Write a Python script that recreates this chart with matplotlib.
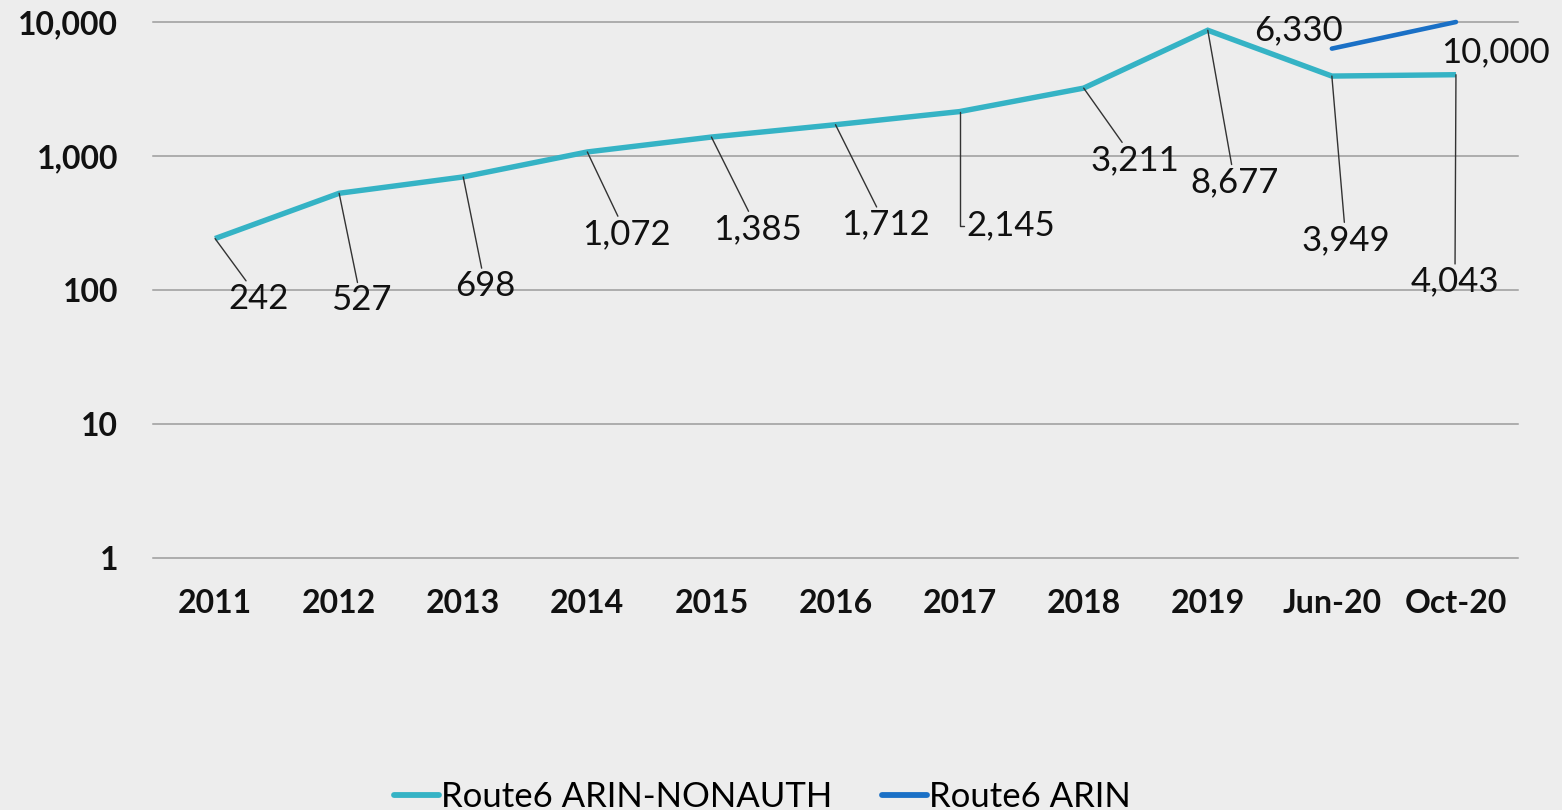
import matplotlib
matplotlib.use("Agg")
import matplotlib.pyplot as plt
from matplotlib.ticker import FixedLocator, FuncFormatter

categories = ["2011", "2012", "2013", "2014", "2015", "2016", "2017", "2018",
              "2019", "Jun-20", "Oct-20"]
nonauth = [242, 527, 698, 1072, 1385, 1712, 2145, 3211, 8677, 3949, 4043]
arin_cats = ["Jun-20", "Oct-20"]
arin = [6330, 10000]
y_ticks = [1, 10, 100, 1000, 10000]

# label offsets in pixels (dx, dy) from each point
nonauth_offsets = [(44, -60), (22, -107), (22, -109), (39, -82), (46, -92),
                   (50, -100), (51, -114), (51, -72), (27, -152), (14, -164),
                   (-1, -207)]
arin_offsets = [(-33, 18), (40, -30)]

teal = "#35b3c5"
blue = "#1a70c6"
bg = "#ededed"

plt.rcParams["font.family"] = ["Lato", "DejaVu Sans"]

fig = plt.figure(figsize=(15.62, 8.10), dpi=100, facecolor=bg)
ax = fig.add_axes([153/1562, 1-558/810, (1518-153)/1562, (558-22)/810])
ax.set_facecolor("none")

x = list(range(len(categories)))
xa = [categories.index(c) for c in arin_cats]

ax.plot(x, nonauth, color=teal, lw=3.9, solid_joinstyle="miter",
        solid_capstyle="butt", label="Route6 ARIN-NONAUTH", zorder=3,
        clip_on=False)
ax.plot(xa, arin, color=blue, lw=3.3, solid_capstyle="round",
        label="Route6 ARIN", zorder=3, clip_on=False)

ax.set_yscale("log")
ax.set_ylim(1, 10000)
ax.set_xlim(-0.5, len(categories) - 0.5)
ax.yaxis.set_major_locator(FixedLocator(y_ticks))
ax.yaxis.set_minor_locator(FixedLocator([]))
ax.yaxis.set_major_formatter(FuncFormatter(lambda v, p: f"{int(round(v)):,}"))
ax.set_xticks(x)
ax.set_xticklabels(categories)

for s in ax.spines.values():
    s.set_visible(False)
ax.grid(axis="y", color="#9c9c9c", lw=1.1)
for gl in ax.get_ygridlines():
    gl.set_clip_on(False)
ax.set_axisbelow(True)
ax.tick_params(axis="both", length=0, labelsize=23)
ax.tick_params(axis="y", pad=25)
ax.tick_params(axis="x", pad=22)
for t in ax.get_xticklabels() + ax.get_yticklabels():
    t.set_fontweight("bold")
    t.set_color("#111111")

lab_kw = dict(textcoords="offset pixels", ha="center", va="center",
              fontsize=25, color="#111111", zorder=4,
              bbox=dict(boxstyle="square,pad=0.05", fc="none", ec="none"))

for i, (v, off) in enumerate(zip(nonauth, nonauth_offsets)):
    if categories[i] == "2017":
        ax.annotate(f"{v:,}", xy=(i, v), xytext=off,
                    arrowprops=dict(arrowstyle="-", color="#333333", lw=1.0,
                                    relpos=(0, 0.5), shrinkA=0, shrinkB=0,
                                    connectionstyle="angle,angleA=0,angleB=90,rad=0"),
                    **lab_kw)
    else:
        ax.annotate(f"{v:,}", xy=(i, v), xytext=off,
                    arrowprops=dict(arrowstyle="-", color="#333333", lw=1.0,
                                    shrinkA=0, shrinkB=0),
                    **lab_kw)

for xi, v, off in zip(xa, arin, arin_offsets):
    ax.annotate(f"{v:,}", xy=(xi, v), xytext=off, **lab_kw)

leg = fig.legend(loc="center", bbox_to_anchor=(0.488, 1 - 797/810), ncol=2,
                 frameon=False, fontsize=25, handlelength=1.3,
                 handletextpad=0.05, columnspacing=1.45)
for h in leg.get_lines():
    h.set_linewidth(4.2)
    h.set_solid_capstyle("round")

fig.savefig("out.png", dpi=100, facecolor=bg)
